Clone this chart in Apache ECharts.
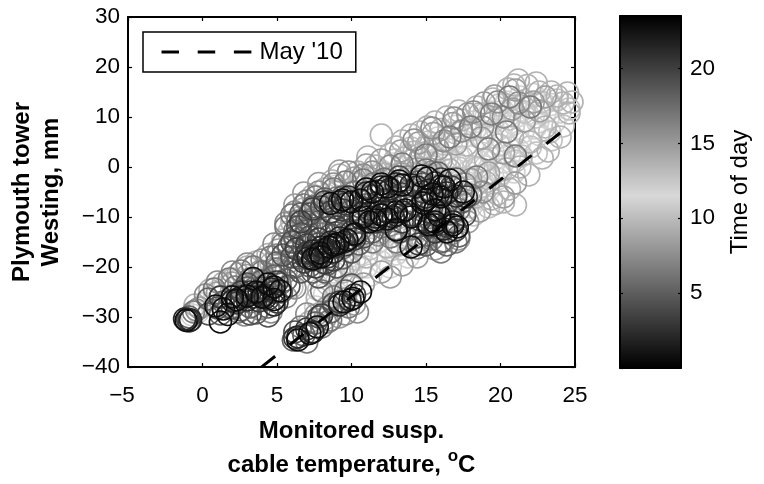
<!DOCTYPE html>
<html><head><meta charset="utf-8">
<style>html,body{margin:0;padding:0;background:#fff}#c{width:764px;height:484px}</style>
<script src="https://cdn.jsdelivr.net/npm/echarts@6/dist/echarts.min.js"></script>
</head><body><div id="c"></div>
<script>
var xTicks = [-5, 25], yTicks = [-40, 30];
var timeRange = [0, 23.5];
var trendLine = [[24.0, 6.8], [3.7, -40.6]];
var trendName = "May '10";
// rings [temperature, westing], grouped by time of day
var hours12 = [[22,12],[21,10],[20.5,8],[19.5,9],[21.5,7],[22.5,9],[23,11],[20,6],[19,7],[18.5,4],[19.5,3],[20.5,4],[18,2],[17.5,6],[18.2,9],[19.3,11],[20.4,13],[21.3,14],[22.2,14.5],[23.4,12.5],[24,11],[23.6,9],[22.6,6.5],[21.3,5],[20.2,1],[19,0],[17.8,-1],[17,1],[16.4,3.5],[15.8,5.8],[17.1,8.2],[16.3,0.4],[15.4,-2],[14.6,0.5],[14,-3.5],[13.3,-1.2],[19.8,-2.4],[20.9,-1],[18.4,-3.5],[17.4,-5.3],[16.2,-6.8],[-0.7,-29.6],[-0.3,-29],[0.1,-27.3],[0.8,-25.2],[1.5,-24],[2.4,-22.6],[3.1,-23.2],[7.6,-28],[8.2,-25.5],[9,-23],[10,-22],[11,-20],[12,-19],[13,-17.4],[14,-15.6],[10.6,-17.4],[11.7,-15.2],[12.9,-13.8],[18,-8],[18.9,-6.4],[6.3,-14.6],[7,-12.4],[7.6,-9.6],[8.5,-7.8],[9.4,-10.6],[9.9,-4.8],[11,-1.8],[12,-0.8],[21.8,10.7],[20.9,8.6],[19.8,7.4],[18.8,5.6],[18.3,7.6],[19,9.8],[20,11],[21,12.2],[22.9,12.7],[23.2,9.8],[22.3,7.8],[21.2,3.4],[20.6,2.4],[19.6,1.6],[18.6,1],[17.7,3.2],[16.7,5],[16,2.3],[15.2,1.2],[14.5,-1.4],[15.6,-3.8],[16.8,-2.6],[17.8,-3.2],[18.9,-1.9],[20,-0.6],[19.2,-4.6],[17.6,-7],[16.6,-8.8],[15.8,-10],[14.6,-12.4],[13.8,-18],[12.6,-20],[11.3,-21.6],[10,-24],[9,-25.8],[8.2,-28.4],[10.8,-15],[9.8,-19],[8.8,-21],[7.5,-8],[8.3,-5.6],[9,-3.8],[10.6,-3.4],[12.8,0.6],[13.8,2.4]];
var hours14 = [[23.8,13.4],[22.7,13],[21.7,12.6],[20.7,11.4],[19.9,12.4],[18.9,10.6],[17.9,7.4],[19.4,6],[20.6,9.6],[21.6,11],[22.4,10],[23.3,7],[22,4],[21,1.2],[20,-1.4],[19,-1.6],[18.2,0],[17.4,2],[16.4,1.8],[15.6,0],[14.8,-2.4],[13.6,-3.6],[12.8,-1.8],[11.8,-3],[14.2,0],[15,2.8],[16.2,4.6],[17,6.8],[15.2,5],[14,3.8],[12.9,1.4],[11.7,-1.8],[10.6,-4],[18.4,-0.2],[19.9,4.4],[21.4,2.2],[22.4,2.8],[23.4,5.4],[24.2,8.2],[24.6,11.6],[17.2,-0.2],[16,-1.8],[15,-4.2],[17,-7.6],[18.2,-9.6],[19.2,-8],[16.6,-10.4],[15.2,-9.2],[13.6,-7.4],[12.2,-13.2],[11.2,-16.4],[10.2,-18.4],[9.2,-20.2],[8.4,-23.4],[7.8,-24.6],[12.6,-16.6],[13.4,-16.4],[14.2,-13.6],[6,-24],[5.2,-21.6]];
var hours10 = [[21.2,17.4],[21.8,16.3],[22.6,15],[20.5,15.6],[19.5,13.6],[18.4,12],[17.2,11.2],[16.4,10],[15.1,8],[14,6.4],[13,4],[12,6.4],[10.4,-1],[11.1,2],[24.5,14.8],[24.6,10.8],[23.4,15],[24.2,12.8],[23.2,3.2],[22.8,1.8],[24,6],[21.3,0],[21.9,-1.6],[21,-7.6],[20.6,-4.4],[19.4,-6.4],[19.8,-5.4],[19,-3],[18.4,-6],[17.6,-9],[16.9,-11],[15.8,-13],[15,4],[13.6,1.8],[12.6,2.6],[12.3,-1.4],[16,7.5],[17.7,4.4],[19,1.4],[20.4,-0.4],[8.2,-4.4],[8.7,-2.8],[9.2,-1.6],[7.4,-5.7],[6.8,-8.4],[6,-11],[5.8,-13],[4.4,-17.5],[3.6,-19],[4.6,-19.3],[2.4,-21.4],[1.4,-23.2],[0.5,-24.6],[-0.5,-27.6],[7.2,-31],[7.7,-26.2],[8.6,-21.6],[9.8,-19.6],[11,-18],[12.4,-16],[13.6,-14.2],[14.8,-15.2],[22.4,16.8],[20.9,16.4],[23.8,14.2],[24.8,13],[23,8],[22,5],[20.8,6],[18.6,10.6],[17.4,9.4],[15.6,9],[14.6,7],[13.4,5.2],[15.4,2.4],[14.2,3],[16.6,-0.6],[13.4,-2.6],[11.6,0.2],[10,-3],[9,-5],[7.8,-7.2],[6.6,-10],[5.4,-14.6],[3,-20],[2,-22.4],[9.4,-21],[10.6,-20],[16,-8],[17,-6.4],[18,-4.6],[19.6,-7.4],[20.2,-7],[14.4,-10.5],[13.2,-15.6]];
var hours8 = [[22.2,13],[21,15.4],[19.6,14.2],[18.9,12.8],[17.8,10.6],[16.8,8.7],[15.5,6.7],[14.5,4.8],[13.3,3.2],[12,1.4],[11,0.4],[10.2,-2.2],[9.2,-0.8],[16,1.2],[14.4,-0.4],[18.7,5.8],[20.8,11.6],[23,14],[22.6,11.2],[21.6,9.2],[20.2,2.8],[18,-2.5],[17,-3.8],[15.8,-5.4],[14.8,-6.5],[19.2,-1.2],[21,-3.2],[20.2,-6],[18.6,-8.8],[17.8,-11],[16.7,-13.4],[4.8,-20.4],[3.9,-20.8],[3,-21.7],[2,-23.2],[1,-25.2],[-0.2,-28.2],[5.8,-19],[5.1,-16.6],[7.6,-29.6],[8.4,-28],[9.6,-26.4],[10.8,-23.4],[12,-21],[13.4,-19.6],[6.2,-7.6],[6.8,-5.2],[7.8,-3.3],[8.4,-7],[4.2,-22.6],[3.4,-23.6],[2.8,-25.4],[1.6,-27],[5.6,-21],[6.6,-13],[7.2,-10.6],[8,-9],[9,-7.2],[10,-6.4],[11,-4.4],[12.2,-2.6],[13.4,-1.4],[14.6,1.8],[15.8,3.6],[17,4.6],[9.2,-30],[8.2,-30.4],[10.2,-27.4],[12.6,-22],[14.4,-18],[15.6,-16.4],[17.2,-14.4]];
var hours16 = [[19.8,13],[18.2,11],[16.9,9.8],[15.4,7.8],[14.2,5.4],[16.2,5.2],[17.4,7.2],[18.8,8],[20.2,10],[21.2,12.8],[12.6,0.2],[11.4,-1],[10.8,-1.6],[9.8,-1],[8.8,-3.4],[7.8,-5],[7,-6.8],[6.2,-9],[5.6,-11.2],[4.8,-15.4],[4,-18.6],[3,-19.4],[2,-21],[1,-23],[0.2,-25.6],[-0.4,-28.6],[5,-17.6],[6.2,-17],[8.8,-11.8],[9.8,-10.4],[10.8,-11],[11.8,-13.6],[12.6,-11.6],[14,-8.2],[15.4,-6.6],[16.4,-7.4],[17.6,-3.4],[18.8,-5],[13.8,-2],[15.4,-1],[3.8,-28.4],[4.6,-29],[2.8,-29.6],[1.8,-28.2],[5.6,-26],[6.2,-24.2],[8.4,-31],[9.6,-29.4],[10.4,-29],[7,-29.4]];
var hours6 = [[22,12],[20.6,14],[19.4,10.6],[18,8],[16.6,6],[15,2.4],[13.4,0.6],[12.2,-2.4],[11.5,-3.3],[10.2,-5],[9,-6.2],[8,-8],[7.2,-10.6],[6.2,-12.8],[5.4,-15.4],[4.6,-18],[3.4,-20],[2.6,-20.8],[1.8,-22.4],[0.8,-24.4],[-0.6,-29],[4.2,-24.6],[3.2,-27],[2.4,-29],[5.2,-23.4],[6,-20],[7,-18.4],[8,-24.8],[8.8,-26],[9.8,-28],[7.4,-33],[7,-35],[6.6,-32],[11.4,-15],[12.6,-14],[14,-12.4],[15.4,-14.4],[16.2,-14.8],[17.2,-8.5],[18,-5.6],[18.4,-2],[19.2,3.6],[20.4,7],[21,2.2],[13.8,-4.8],[15,-0.6],[9.4,-16.2],[10.6,-12.6],[5,-20.4],[4,-21],[3.2,-22.4],[2.2,-24],[1.2,-26],[6,-9.6],[6.8,-7.6],[7.6,-6],[8.8,-4.4],[9.6,-3],[10.8,-2.6],[6.4,-10.8],[5.6,-12],[8.6,-11],[9.8,-9],[7.9,-13.4],[11,-13.2],[12,-12],[13,-15],[14.4,-16.2],[16,-17],[17,-15],[15,-7.6],[13,-6.6],[8.6,-30.6],[8,-32]];
var hours5 = [[15.8,-1.2],[14.5,-3],[13,-4],[12.2,-7],[11,-7.6],[10,-8.8],[8.8,-9.6],[7.8,-11],[7,-12.8],[6.2,-14],[5.8,-16],[5,-19.2],[4.8,-21.8],[5.3,-25],[4,-22.8],[3,-24.2],[2,-25.8],[1.4,-27],[2.6,-28.6],[3.6,-29.2],[-0.9,-30],[0.4,-26.4],[1.2,-29.4],[6.8,-33.6],[6.1,-34.6],[7.6,-31.2],[8.6,-29],[9.6,-24.8],[8.2,-21],[7.2,-19.8],[6.5,-18.2],[10.5,-15.4],[11.4,-13],[13,-12.4],[14.4,-14],[15.6,-11.4],[16.6,-9.4],[17.4,-7],[16,-15],[15,-13.6],[17,-2.4],[6.6,-9.4],[7.4,-8],[8.2,-6.4],[9.4,-6],[7,-11],[8,-12.6],[9,-13.2],[6.8,-15],[7.6,-16.2],[6.2,-20],[7.4,-21],[8.4,-19.4],[9.4,-18.2],[4.4,-23.4],[3.4,-25.4],[2.4,-27],[4.4,-28],[3.2,-28],[5.6,-22.6],[10.4,-11],[11.8,-9],[12.8,-6.2],[14,-6.8],[16.4,-15.6],[17.2,-13.8],[15,-15.6],[14.4,-12]];
var hours4 = [[5.4,-17.6],[6,-15],[6.6,-13.4],[7.2,-14],[7.8,-15.4],[8.6,-13.6],[9.6,-12],[10.6,-8],[11.8,-7],[13,-7],[14.2,-7.4],[7.2,-9.4],[8,-8],[9,-8.2],[6.4,-12],[6,-18],[6.6,-21],[7.8,-22],[9,-20],[10,-17],[10.8,-14],[12.2,-11],[13.2,-13],[15.2,-12],[16.8,-9],[17.6,-9.6],[16,-9.6],[3,-23.4],[4,-24.2],[2,-28.2],[1,-28.2],[3.2,-29.4],[4.4,-29.8],[0.4,-29.4],[5.8,-23.8],[6.2,-33],[7.8,-30],[8.8,-27.4],[10,-23.6],[14.8,-3.4],[13.2,-2]];
var hours3 = [[9,-12],[7.8,-14.4],[7,-15.6],[6.6,-11],[7.4,-8.4],[8.2,-7],[9.6,-7.4],[10.6,-9.4],[11.4,-5.8],[12.4,-5],[13.4,-5.4],[14.8,-5],[16,-2.4],[16.7,-4],[15.2,-9],[14,-9.6],[12.8,-8.6],[11.6,-11],[10,-13],[8.4,-18],[7.4,-18.6],[7,-17.2],[6.3,-16.4],[5,-23],[4.4,-26.4],[3.2,-25],[2.3,-27.2],[1.2,-26],[-1,-30.4],[-0.9,-30.8],[4.8,-25],[6.2,-34.2],[7,-32.4],[8,-29.6],[9.2,-27],[10.2,-25.6],[14.5,-15.4],[15.6,-13],[16.4,-11.8],[17,-12.6],[17.7,-6],[6.8,-19],[7.6,-20],[8.2,-19.2],[8.8,-18.6],[6.9,-17.9],[7.6,-17.4],[8.1,-16.6],[8.9,-16],[9.6,-15.6],[10.2,-14.4],[2.6,-25],[3.8,-26.8],[4.2,-25.6],[5,-27],[13.4,-11],[14.6,-10.6],[15.8,-8.6],[12.2,-6.6],[11.2,-8.4],[8.6,-9],[9.4,-8.6]];
var hours2 = [[7.4,-16.8],[8,-16],[8.6,-15],[9.2,-14.2],[8.8,-17],[7.8,-18],[10.6,-10.2],[11.2,-9.2],[12,-9.6],[12.8,-10],[13.4,-9],[11,-5.2],[12,-4],[13,-3.4],[14.4,-4],[15,-6],[15.6,-3.2],[16.4,-5.2],[17,-5.8],[15,-11],[15.6,-11.6],[16.2,-12.4],[16.8,-11],[3,-26.6],[3.8,-25.2],[4.6,-24.4],[2,-26.8],[4.8,-27.6],[-1.2,-30.4],[-0.8,-30.6],[6.4,-34],[7.4,-33],[9.2,-27.6],[9.9,-26.6],[7.1,-18.2],[7.7,-17.4],[8.3,-16.4],[8.9,-15.6],[9.5,-15],[10.2,-13.6],[2.6,-26],[3.4,-26],[4.2,-26.2],[11.6,-10],[12.4,-9],[13,-9.6],[14,-3.6],[15.2,-4.6],[15.8,-5.6],[16,-3.8],[11.8,-4.8],[12.6,-4.4],[9.2,-7],[9.8,-6]];
var hours0 = [[0.9,-27.8],[1.2,-31],[1.7,-29.5],[3.4,-22.3],[2.3,-26.6],[3,-25.8],[3.6,-25],[4.8,-24],[4.8,-26.5],[5.2,-24.8],[-1.1,-30.7],[6.4,-34.6],[7.7,-32],[7.2,-33.3],[9.5,-27],[10.1,-26.3],[10.6,-25],[8.5,-16],[9.7,-14.6],[7.9,-17.2],[9.1,-15.3],[8.6,-7.3],[10.6,-6.6],[11.4,-5],[12.4,-4],[13.2,-2.8],[12,-9.6],[11.6,-10.6],[13.6,-8.6],[14.7,-1.8],[15.1,-2.2],[16.6,-2.6],[17.5,-5],[15.4,-5.4],[14.8,-7.2],[15.6,-11],[16.4,-13],[15.9,-9.8],[17.1,-12],[13,-12.6],[14,-16],[11,-4.4],[10,-7],[9.4,-6.6],[12,-3.4],[13.4,-3.6],[14,-10],[12.4,-10.4],[11.2,-11],[10.8,-10],[13,-9],[15,-6.6],[16,-6],[16.2,-4],[15.6,-8.6],[15.2,-11.6],[16.8,-11.6],[8,-18],[7.4,-18.4],[8.8,-15.6],[10.2,-13.4],[1.4,-28.4],[2,-26],[4,-26],[4.4,-23.4]];
var ringGroups = [
  {name:'12h', data:hours12, gray:'#d2d2d2'},
  {name:'14h', data:hours14, gray:'#c2c2c2'},
  {name:'10h', data:hours10, gray:'#b2b2b2'},
  {name:'8h',  data:hours8,  gray:'#9c9c9c'},
  {name:'16h', data:hours16, gray:'#8c8c8c'},
  {name:'6h',  data:hours6,  gray:'#787878'},
  {name:'5h',  data:hours5,  gray:'#606060'},
  {name:'4h',  data:hours4,  gray:'#505050'},
  {name:'3h',  data:hours3,  gray:'#3c3c3c'},
  {name:'2h',  data:hours2,  gray:'#262626'},
  {name:'0h',  data:hours0,  gray:'#0c0c0c'}
];
var font = '"Liberation Sans", Arial, sans-serif';
var series = ringGroups.map(function (g) {
  return {type:'scatter', name:g.name, xAxisIndex:0, yAxisIndex:0, data:g.data, symbol:'circle', symbolSize:22,
    clip:false, silent:true, animation:false,
    itemStyle:{color:'rgba(0,0,0,0)', borderColor:g.gray, borderWidth:1.6, opacity:1}};
});
series.push({type:'line', name:trendName, xAxisIndex:0, yAxisIndex:0, data:trendLine, showSymbol:false, symbol:'none',
  clip:true, silent:true, animation:false, z:5,
  itemStyle:{color:'#000'},
  lineStyle:{color:'#000', width:3, type:[17.5,18.7], cap:'butt'}});
series.push({type:'bar', xAxisIndex:2, yAxisIndex:3, data:[timeRange[1]], barWidth:'100%', silent:true, animation:false,
  itemStyle:{color:{type:'linear',x:0,y:0,x2:0,y2:1,colorStops:[
    {offset:0,color:'#000'},{offset:0.51,color:'#d8d8d8'},{offset:1,color:'#000'}]}}});
var axisLine = {show:true, onZero:false, lineStyle:{color:'#000', width:2}};
var tick = {show:true, inside:true, length:4, lineStyle:{color:'#000', width:1.2}};
var option = {
  backgroundColor:'#fff', animation:false,
  textStyle:{fontFamily:font},
  legend:{show:true, data:[trendName], left:143, top:32,
    padding:[8,13,8,17], itemWidth:90, itemHeight:14, itemGap:0, selectedMode:false,
    borderColor:'#000', borderWidth:1.5, backgroundColor:'#fff',
    itemStyle:{opacity:0}, lineStyle:{width:3, color:'#000'},
    textStyle:{fontSize:24, color:'#000', fontFamily:font, padding:[0,0,0,3]}},
  grid:[{left:128, right:189, top:17, bottom:117, containLabel:false, outerBoundsMode:'none'},
        {left:620, right:83, top:16, bottom:116, containLabel:false, outerBoundsMode:'none'}],
  xAxis:[
    {type:'value', gridIndex:0, position:'bottom', min:xTicks[0], max:xTicks[1], interval:5,
     axisLine:axisLine, axisTick:tick, splitLine:{show:false},
     axisLabel:{fontSize:22.5, color:'#000', margin:17, fontFamily:font,
       formatter:function(v){return v<0 ? '{m|\u2212'+Math.abs(v)+'}' : String(v);},
       rich:{m:{fontSize:22.5, color:'#000', fontFamily:font, padding:[0,12,0,0]}}},
     name:'Monitored susp.\ncable temperature, {sup|o}{b|C}', nameLocation:'middle', nameGap:47, nameMoveOverlap:false,
     nameTextStyle:{fontSize:24, fontWeight:'bold', color:'#000', fontFamily:font, lineHeight:34,
       rich:{sup:{fontSize:17, fontWeight:'bold', color:'#000', verticalAlign:'top', lineHeight:34, fontFamily:font, padding:[0,0,8,0]},
             b:{fontSize:24, fontWeight:'bold', color:'#000', lineHeight:34, fontFamily:font}}}},
    {type:'value', gridIndex:0, position:'top', min:xTicks[0], max:xTicks[1], interval:5,
     axisLine:axisLine, axisTick:tick, axisLabel:{show:false}, splitLine:{show:false}},
    {type:'category', gridIndex:1, position:'bottom', data:['t'], axisLine:axisLine, axisTick:{show:false}, axisLabel:{show:false}},
    {type:'category', gridIndex:1, position:'top', data:['t'], axisLine:axisLine, axisTick:{show:false}, axisLabel:{show:false}}
  ],
  yAxis:[
    {type:'value', gridIndex:0, position:'left', min:yTicks[0], max:yTicks[1], interval:10,
     axisLine:axisLine, axisTick:tick, splitLine:{show:false},
     axisLabel:{fontSize:22.5, color:'#000', margin:8, padding:[4,0,0,0], fontFamily:font, formatter:function(v){return String(v).replace('-','\u2212');}},
     name:'Plymouth tower\nWesting, mm', nameLocation:'middle', nameGap:62, nameRotate:90, nameMoveOverlap:false,
     nameTextStyle:{fontSize:24, fontWeight:'bold', color:'#000', fontFamily:font, lineHeight:29}},
    {type:'value', gridIndex:0, position:'right', min:yTicks[0], max:yTicks[1], interval:10,
     axisLine:axisLine, axisTick:tick, axisLabel:{show:false}, splitLine:{show:false}},
    {type:'value', gridIndex:1, position:'left', min:timeRange[0], max:timeRange[1], interval:5,
     axisLine:axisLine, axisTick:{show:true, inside:true, length:3, lineStyle:{color:'#000', width:1.2}}, axisLabel:{show:false}, splitLine:{show:false}, z:6},
    {type:'value', gridIndex:1, position:'right', min:timeRange[0], max:timeRange[1], interval:5,
     axisLine:axisLine, axisTick:{show:true, inside:true, length:3, lineStyle:{color:'#000', width:1.2}}, splitLine:{show:false}, z:6,
     axisLabel:{fontSize:22.5, color:'#000', margin:9, fontFamily:font, showMinLabel:false, showMaxLabel:false},
     name:'Time of day', nameLocation:'middle', nameGap:47, nameRotate:90, nameMoveOverlap:false,
     nameTextStyle:{fontSize:24, color:'#000', fontFamily:font}}
  ],
  series:series
};
var chart = echarts.init(document.getElementById('c'), null, {renderer:'canvas', width:764, height:484});
chart.setOption(option);
</script></body></html>
